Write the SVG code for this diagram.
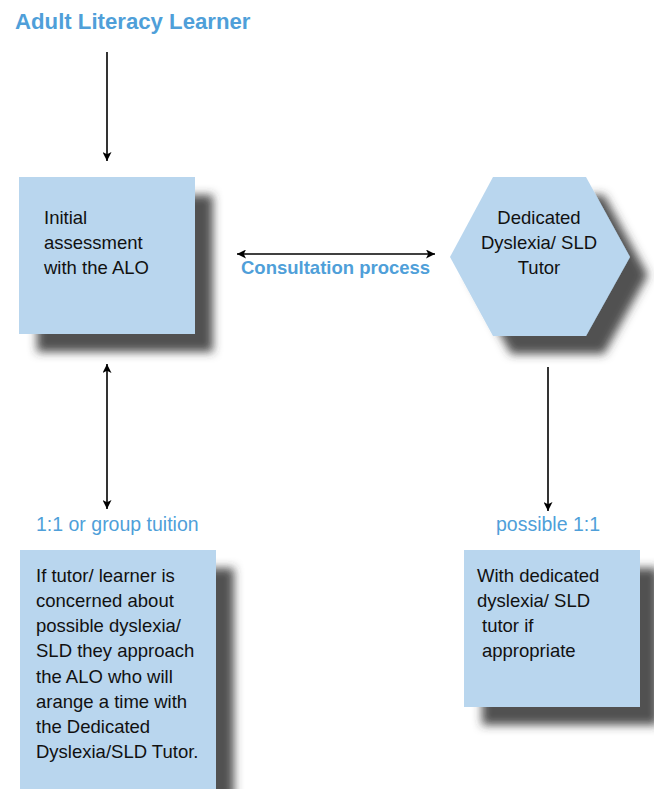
<svg xmlns="http://www.w3.org/2000/svg" width="654" height="789" viewBox="0 0 654 789">
<style>
.node{fill:#b9d6ee;filter:url(#shadow)}
.t{font-family:"Liberation Sans",Arial,sans-serif;font-size:18.5px;fill:#111}
.blue{font-family:"Liberation Sans",Arial,sans-serif;font-size:18.5px;fill:#4f9fd9}
.lbl{font-size:19.5px}
.bold{font-weight:bold}
.conn line{stroke:#000;stroke-width:1.6;fill:none}
</style>
<defs>
<filter id="shadow" x="-20%" y="-20%" width="150%" height="150%">
<feGaussianBlur in="SourceAlpha" stdDeviation="5"/>
<feOffset dx="18" dy="18" result="b"/>
<feFlood flood-color="#333" flood-opacity="0.85"/>
<feComposite in2="b" operator="in"/>
<feMerge><feMergeNode/><feMergeNode in="SourceGraphic"/></feMerge>
</filter>
<marker id="ah" viewBox="0 0 10 10" refX="10" refY="5" markerWidth="9" markerHeight="9" markerUnits="userSpaceOnUse" orient="auto-start-reverse">
<path d="M0,0 L10,5 L0,10 L2.5,5 Z" fill="#000"/>
</marker>
</defs>
<rect width="654" height="789" fill="#fff"/>
<g id="title">
<text x="15" y="29" class="blue bold" style="font-size:22.2px">Adult Literacy Learner</text>
</g>
<g id="initial-assessment">
<rect class="node" x="19" y="177" width="176" height="157"/>
<text class="t" x="44" y="224">Initial</text>
<text class="t" x="44" y="249">assessment</text>
<text class="t" x="44" y="274">with the ALO</text>
</g>
<g id="dedicated-tutor">
<polygon class="node" points="493,177 586,177 630,257 586,336 493,336 450,257"/>
<text class="t" x="539" y="224" text-anchor="middle">Dedicated</text>
<text class="t" x="539" y="249" text-anchor="middle">Dyslexia/ SLD</text>
<text class="t" x="539" y="274" text-anchor="middle">Tutor</text>
</g>
<g id="group-tuition">
<rect class="node" x="20" y="550" width="196" height="260"/>
<text class="t" x="36" y="582">If tutor/ learner is</text>
<text class="t" x="36" y="607">concerned about</text>
<text class="t" x="36" y="632">possible dyslexia/</text>
<text class="t" x="36" y="657">SLD they approach</text>
<text class="t" x="36" y="683">the ALO who will</text>
<text class="t" x="36" y="708">arange a time with</text>
<text class="t" x="36" y="733">the Dedicated</text>
<text class="t" x="36" y="758">Dyslexia/SLD Tutor.</text>
</g>
<g id="one-to-one">
<rect class="node" x="464" y="550" width="176" height="157"/>
<text class="t" x="477" y="582">With dedicated</text>
<text class="t" x="477" y="607">dyslexia/ SLD</text>
<text class="t" x="482" y="632">tutor if</text>
<text class="t" x="482" y="657">appropriate</text>
</g>
<g class="conn" id="connectors">
<line x1="107" y1="52" x2="107" y2="161" marker-end="url(#ah)"/>
<line x1="237" y1="254" x2="435" y2="254" marker-start="url(#ah)" marker-end="url(#ah)"/>
<line x1="107" y1="364" x2="107" y2="509" marker-start="url(#ah)" marker-end="url(#ah)"/>
<line x1="548" y1="367" x2="548" y2="511" marker-end="url(#ah)"/>
</g>
<g id="labels">
<text x="241" y="274" class="blue bold">Consultation process</text>
<text x="36" y="531" class="blue lbl">1:1 or group tuition</text>
<text x="496" y="531" class="blue lbl">possible 1:1</text>
</g>
</svg>
